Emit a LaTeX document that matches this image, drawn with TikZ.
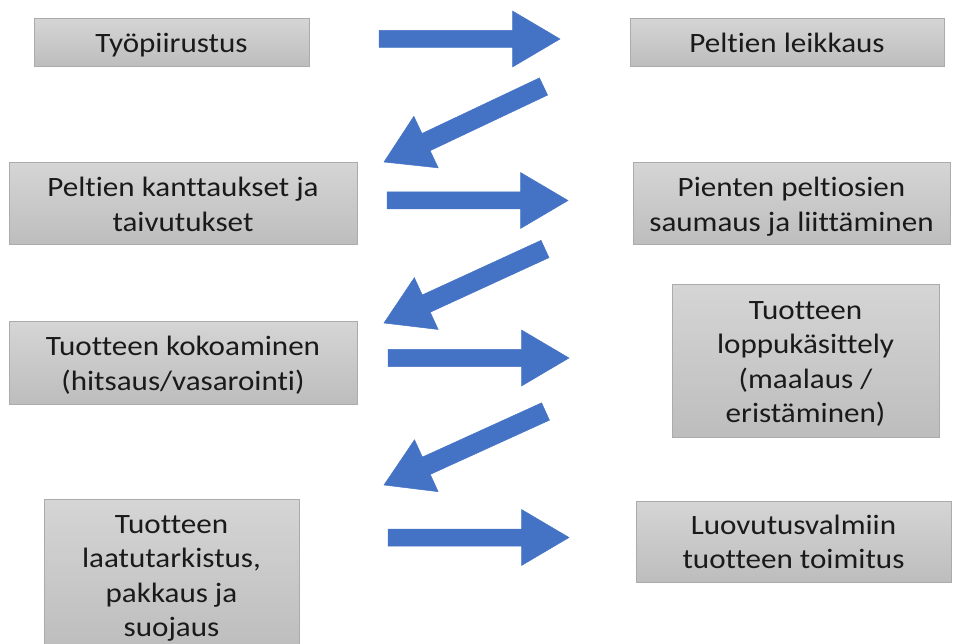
\documentclass[tikz,border=0pt]{standalone}
\usepackage{fontspec}
\setmainfont{Carlito}[FakeStretch=1.11, Ligatures=NoCommon]
\usetikzlibrary{calc}
\definecolor{arrowblue}{HTML}{4472C4}
\definecolor{boxtop}{HTML}{D5D5D5}
\definecolor{boxbot}{HTML}{BDBDBD}
\definecolor{boxline}{HTML}{ABABAB}
\definecolor{txt}{HTML}{1A1A1A}
\newcommand\blockarr[5]{%
  % #1 tail coordinate, #2 tip coordinate, #3 shaft half width, #4 head half width, #5 head length
  \coordinate (neck) at ($(#2)!#5pt!(#1)$);
  \filldraw[arrowstyle]
    ($(#1)!#3pt!90:(#2)$) -- ($(neck)!#3pt!90:(#2)$) -- ($(neck)!#4pt!90:(#2)$) --
    (#2) --
    ($(neck)!#4pt!-90:(#2)$) -- ($(neck)!#3pt!-90:(#2)$) -- ($(#1)!#3pt!-90:(#2)$) -- cycle;
}
\newcommand\boxtext[1]{\raisebox{-3pt}[\height][\depth]{\begin{tabular}{@{}c@{}}#1\end{tabular}}}
\tikzset{
  box/.style={draw=boxline, line width=1pt, top color=boxtop, bottom color=boxbot,
    rectangle, inner sep=0pt, text=txt,
    font=\fontsize{28pt}{34.5pt}\selectfont},
  arrowstyle/.style={fill=arrowblue, draw=arrowblue, line width=0.5pt, line join=miter}
}
\begin{document}
\begin{tikzpicture}[x=1pt,y=-1pt]
\useasboundingbox (0,0) rectangle (964,644);
\begin{scope}
\clip (0,0) rectangle (964,644);
\node[box, minimum width=275pt, minimum height=48pt] (n1) at (171.5,43) {\boxtext{Työpiirustus}};
\node[box, minimum width=314pt, minimum height=48pt] (n2) at (787,43) {\boxtext{Peltien leikkaus}};
\node[box, minimum width=348pt, minimum height=82pt] (n3) at (183,204) {\boxtext{Peltien kanttaukset ja\\taivutukset}};
\node[box, minimum width=317pt, minimum height=82pt] (n4) at (791.5,204) {\boxtext{Pienten peltiosien\\saumaus ja liittäminen}};
\node[box, minimum width=348pt, minimum height=82pt] (n5) at (183,363) {\boxtext{Tuotteen kokoaminen\\(hitsaus/vasarointi)}};
\node[box, minimum width=267pt, minimum height=152pt] (n6) at (805.5,361) {\boxtext{Tuotteen\\loppukäsittely\\(maalaus /\\eristäminen)}};
\node[box, minimum width=255pt, minimum height=152pt] (n7) at (171.5,575) {\boxtext{Tuotteen\\laatutarkistus,\\pakkaus ja\\suojaus}};
\node[box, minimum width=315pt, minimum height=81pt] (n8) at (793.5,541.5) {\boxtext{Luovutusvalmiin\\tuotteen toimitus}};
\end{scope}
% arrow end points
\coordinate (a1s) at (379,39);   \coordinate (a1e) at (560,39);
\coordinate (d1s) at (543.5,86.5); \coordinate (d1e) at (384,162);
\coordinate (a2s) at (387,200.5); \coordinate (a2e) at (568,200.5);
\coordinate (d2s) at (545,249);  \coordinate (d2e) at (384,323);
\coordinate (a3s) at (388,358);  \coordinate (a3e) at (569,358);
\coordinate (d3s) at (545.5,411.5); \coordinate (d3e) at (384,485);
\coordinate (a4s) at (388,537.5); \coordinate (a4e) at (569,537.5);
\blockarr{a1s}{a1e}{8.5}{28}{47.5}
\blockarr{d1s}{d1e}{9.5}{28.5}{46.5}
\blockarr{a2s}{a2e}{8.5}{28}{47.5}
\blockarr{d2s}{d2e}{9.5}{28.5}{46.5}
\blockarr{a3s}{a3e}{8.5}{28}{47.5}
\blockarr{d3s}{d3e}{9.5}{28.5}{46.5}
\blockarr{a4s}{a4e}{8.5}{28}{47.5}
\end{tikzpicture}
\end{document}
